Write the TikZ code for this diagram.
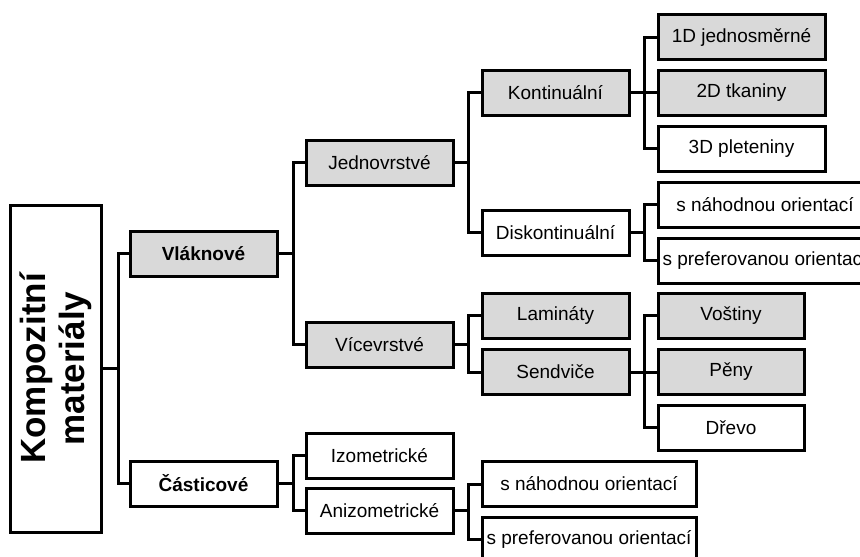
\documentclass[tikz,border=0pt]{standalone}
\usepackage{fontspec}
\setmainfont{Liberation Sans}
\definecolor{boxgray}{HTML}{D9D9D9}
\begin{document}
\begin{tikzpicture}[x=1pt,y=-1pt,
  box/.style={draw, line width=3pt, rectangle, minimum height=45pt, inner sep=0pt,
    font=\fontsize{19}{22}\selectfont, text=black},
  gbox/.style={box, fill=boxgray},
  wmid/.style={minimum width=147pt},
  wwide/.style={minimum width=214pt},
  wlev/.style={minimum width=167pt},
  wsan/.style={minimum width=146pt},
  bold/.style={font=\fontsize{19}{22}\selectfont\bfseries},
  link/.style={line width=3pt}]
\useasboundingbox (0,0) rectangle (860,557);
\clip (0,0) rectangle (860,557);
% root
\node[draw, line width=3pt, rectangle, minimum width=91pt, minimum height=327pt, inner sep=0pt] (root) at (55.5,368.5) {};
\node[rotate=90, align=center, inner sep=0pt, font=\fontsize{35}{39}\selectfont\bfseries] (roottext) at (root.center) {Kompozitní\\materiály};
% level 1
\node[gbox, wmid, bold] (vlak) at (203.5,253.5) {Vláknové};
\node[box, wmid, bold] (cast) at (203.5,483.5) {Částicové};
% level 2
\node[gbox, wmid] (jedn) at (379.5,162.5) {Jednovrstvé};
\node[gbox, wmid] (vice) at (379.5,344.5) {Vícevrstvé};
\node[box, wmid] (izo) at (379.5,455.5) {Izometrické};
\node[box, wmid] (aniz) at (379.5,510.5) {Anizometrické};
% level 3
\node[gbox, wmid] (kont) at (555.5,92.5) {Kontinuální};
\node[box, wmid] (disk) at (555.5,232.5) {Diskontinuální};
\node[gbox, wmid] (lam) at (555.5,315.5) {Lamináty};
\node[gbox, wmid] (send) at (555.5,372) {Sendviče};
\node[box, wwide] (sn2) at (589,484) {s náhodnou orientací};
\node[box, wwide] (sp2) at (589,539.5) {s preferovanou orientací};
% level 4
\node[gbox, wlev] (d1) at (741.5,37) {1D jednosměrné};
\node[gbox, wlev] (d2) at (741.5,92.5) {2D tkaniny};
\node[box, wlev] (d3) at (741.5,148.5) {3D pleteniny};
\node[box, wwide] (sn1) at (765,204.5) {s náhodnou orientací};
\node[box, wwide] (sp1) at (765,260.5) {s preferovanou orientací};
\node[gbox, wsan] (vos) at (731,315.5) {Voštiny};
\node[gbox, wsan] (pen) at (731,372) {Pěny};
\node[box, wsan] (drev) at (731,427.5) {Dřevo};
% connectors
\foreach \c in {vlak,cast} \draw[link] (root.east) -- ++(16,0) |- (\c.west);
\foreach \c in {jedn,vice} \draw[link] (vlak.east) -- ++(15,0) |- (\c.west);
\foreach \c in {izo,aniz} \draw[link] (cast.east) -- ++(15,0) |- (\c.west);
\foreach \c in {kont,disk} \draw[link] (jedn.east) -- ++(14,0) |- (\c.west);
\foreach \c in {lam,send} \draw[link] (vice.east) -- ++(14,0) |- (\c.west);
\foreach \c in {sn2,sp2} \draw[link] (aniz.east) -- ++(14,0) |- (\c.west);
\foreach \c in {d1,d2,d3} \draw[link] (kont.east) -- ++(14,0) |- (\c.west);
\foreach \c in {sn1,sp1} \draw[link] (disk.east) -- ++(14,0) |- (\c.west);
\foreach \c in {vos,pen,drev} \draw[link] (send.east) -- ++(14,0) |- (\c.west);
\end{tikzpicture}
\end{document}
